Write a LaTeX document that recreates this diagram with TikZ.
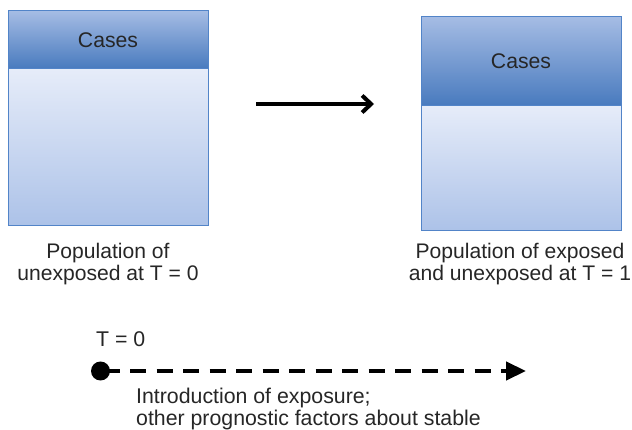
\documentclass[tikz,border=0pt]{standalone}
\usepackage{fontspec}
\setmainfont{Liberation Sans}
\usetikzlibrary{arrows.meta}
\definecolor{edgeblue}{RGB}{82,132,200}
\definecolor{headtop}{RGB}{165,188,228}
\definecolor{headbot}{RGB}{72,122,190}
\definecolor{bodytop}{RGB}{230,236,249}
\definecolor{bodybot}{RGB}{172,194,232}
\tikzset{
  x=1pt, y=-1pt,
  header/.style={draw=edgeblue, line width=1pt, top color=headtop, bottom color=headbot,
    minimum width=200pt, inner sep=0pt, font=\fontsize{21.2}{22}\selectfont, text=black!85},
  body/.style={draw=edgeblue, line width=1pt, top color=bodytop, bottom color=bodybot,
    minimum width=200pt, inner sep=0pt},
  caption/.style={align=center, inner sep=0pt, font=\fontsize{21.1}{22.5}\selectfont, text=black!85},
  note/.style={align=left, inner sep=0pt, font=\fontsize{21.3}{22}\selectfont, text=black!85},
}
\begin{document}
\begin{tikzpicture}
\useasboundingbox (0,0) rectangle (632,430);

% population at T = 0
\node[body, minimum height=157pt] (lbody) at (108,147.5) {};
\node[header, minimum height=58pt] (lhead) at (108,40) {Cases};
\node[caption] (lcap) at (108,264) {Population of\\unexposed at T = 0};

% population at T = 1
\node[body, minimum height=125pt] (rbody) at (521,168.5) {};
\node[header, minimum height=89pt] (rhead) at (521,61.5) {Cases};
\node[caption] (rcap) at (520,264) {Population of exposed\\and unexposed at T = 1};

% transition between the two populations
\coordinate (afrom) at (256,104);
\coordinate (ato) at (374,104);
\draw[line width=4pt, -{Straight Barb[length=9pt,width=17pt,line width=4pt]}] (afrom) -- (ato);

% time line
\node[circle, fill=black, minimum size=19pt, inner sep=0pt] (start) at (100.5,371) {};
\coordinate (tend) at (526,371);
\draw[line width=4.5pt, dash pattern=on 16pt off 10.5pt, dash phase=-3pt, -{Triangle[length=20pt,width=18pt]}] (start.center) -- (tend);
\node[note, anchor=base west] (tzero) at (96,346) {T = 0};
\node[note, anchor=north west] (intro) at (136,388) {Introduction of exposure;\\other prognostic factors about stable};
\end{tikzpicture}
\end{document}
